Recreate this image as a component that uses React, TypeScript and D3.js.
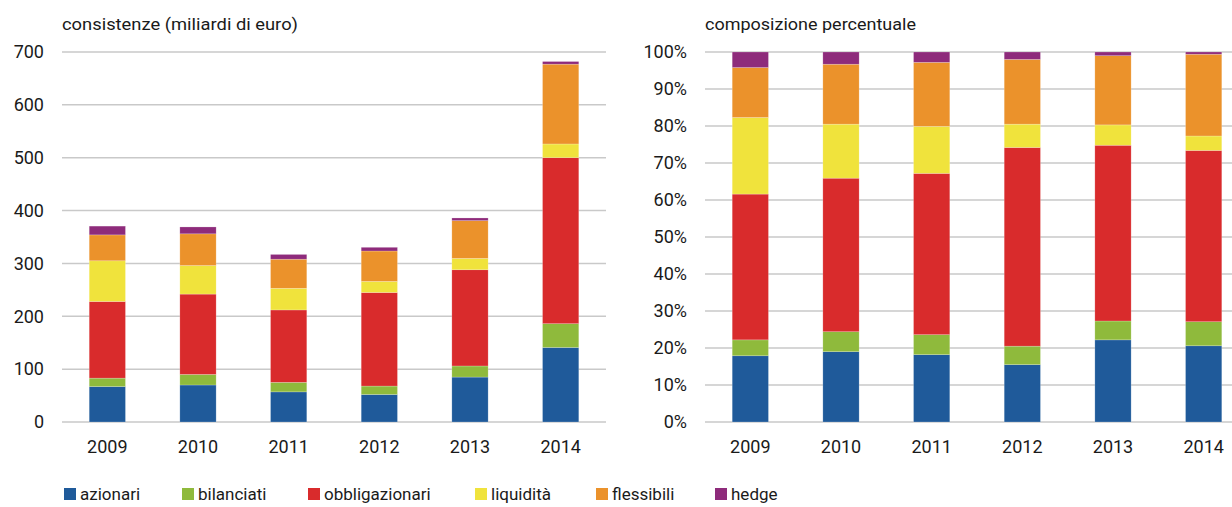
import React from 'react';
import * as d3 from 'd3';

const years = ['2009', '2010', '2011', '2012', '2013', '2014'];
const seriesNames = ['azionari', 'bilanciati', 'obbligazionari', 'liquidità', 'flessibili', 'hedge'];
const seriesColors = ['#1F5A9A', '#8FBA3C', '#D92B2C', '#F0E33C', '#EB922B', '#8E2B7B'];

// consistenze (miliardi di euro)
const azionariAbs = [67, 70, 57, 52, 85, 141];
const bilanciatiAbs = [16, 20, 18, 16, 21, 45];
const obbligazionariAbs = [145, 152, 137, 177, 182, 314];
const liquiditaAbs = [77, 54, 41, 21, 21.5, 26];
const flessibiliAbs = [49, 60, 55, 57.5, 71.5, 151];
const hedgeAbs = [16.6, 13, 9, 7, 5, 5];

// composizione percentuale
const azionariPct = [17.9, 19.0, 18.2, 15.5, 22.2, 20.6];
const bilanciatiPct = [4.3, 5.4, 5.4, 5.0, 5.1, 6.5];
const obbligazionariPct = [39.4, 41.5, 43.6, 53.7, 47.5, 46.3];
const liquiditaPct = [20.7, 14.6, 12.7, 6.3, 5.5, 3.9];
const flessibiliPct = [13.5, 16.2, 17.3, 17.5, 18.7, 22.1];
const hedgePct = [4.2, 3.3, 2.8, 2.0, 1.0, 0.6];

const leftTicks = [0, 100, 200, 300, 400, 500, 600, 700];
const rightTicks = [0, 10, 20, 30, 40, 50, 60, 70, 80, 90, 100];

const FONT = 'Roboto, "Noto Sans", sans-serif';
const TEXT = '#1a1a1a';

function buildRows(cols: number[][]) {
  return years.map((y, i) => {
    const row: any = { year: y };
    seriesNames.forEach((s, j) => (row[s] = cols[j][i]));
    return row;
  });
}

function Panel({ rows, x0, x1, gridEnd, yMax, ticks, fmt, title }: any) {
  const x = d3.scaleBand<string>().domain(years).range([x0, x1]).paddingInner(0.6).paddingOuter(0.3);
  const y = d3.scaleLinear().domain([0, yMax]).range([422, 52]);
  const stacked = d3.stack<any>().keys(seriesNames)(rows);
  return (
    <g>
      <text x={x0} y={30} fontSize={17} fill={TEXT} fontFamily={FONT} textLength={title.len} lengthAdjust="spacingAndGlyphs">
        {title.text}
      </text>
      {ticks.map((t: number) => (
        <g key={t}>
          <line x1={x0} x2={gridEnd} y1={y(t)} y2={y(t)} stroke="#C9C9C9" strokeWidth={1.5} />
          <text x={x0 - 18} y={y(t)} dy="0.35em" textAnchor="end" fontSize={18} fill={TEXT} fontFamily={FONT}>
            {fmt(t)}
          </text>
        </g>
      ))}
      {stacked.map((layer, j) => (
        <g key={seriesNames[j]} fill={seriesColors[j]}>
          {layer.map((d: any, i: number) => (
            <rect
              key={i}
              x={x(years[i])}
              width={x.bandwidth()}
              y={y(d[1])}
              height={Math.max(0, y(d[0]) - y(d[1]))}
              stroke="#ffffff"
              strokeOpacity={0.35}
              strokeWidth={0.6}
            />
          ))}
        </g>
      ))}
      {years.map((yr) => (
        <text key={yr} x={(x(yr) as number) + x.bandwidth() / 2} y={453} textAnchor="middle" fontSize={18} fill={TEXT} fontFamily={FONT}>
          {yr}
        </text>
      ))}
    </g>
  );
}

const legendX = [64, 182, 308, 475, 596, 715];

export default function App() {
  const absRows = buildRows([azionariAbs, bilanciatiAbs, obbligazionariAbs, liquiditaAbs, flessibiliAbs, hedgeAbs]);
  const pctRows = buildRows([azionariPct, bilanciatiPct, obbligazionariPct, liquiditaPct, flessibiliPct, hedgePct]);
  return (
    <div style={{ position: 'absolute', left: 0, top: 0 }}>
      <svg width={1232} height={507} style={{ display: 'block', background: '#fff' }}>
        <Panel
          rows={absRows}
          x0={62}
          x1={606}
          gridEnd={606}
          yMax={700}
          ticks={leftTicks}
          fmt={(t: number) => String(t)}
          title={{ text: 'consistenze (miliardi di euro)', len: 236 }}
        />
        <Panel
          rows={pctRows}
          x0={705}
          x1={1249}
          gridEnd={1232}
          yMax={100}
          ticks={rightTicks}
          fmt={(t: number) => `${t}%`}
          title={{ text: 'composizione percentuale', len: 211 }}
        />
        {seriesNames.map((s, i) => (
          <g key={s}>
            <rect x={legendX[i]} y={488} width={12} height={12} fill={seriesColors[i]} />
            <text x={legendX[i] + 16} y={500} fontSize={17} fill={TEXT} fontFamily={FONT}>
              {s}
            </text>
          </g>
        ))}
      </svg>
    </div>
  );
}
